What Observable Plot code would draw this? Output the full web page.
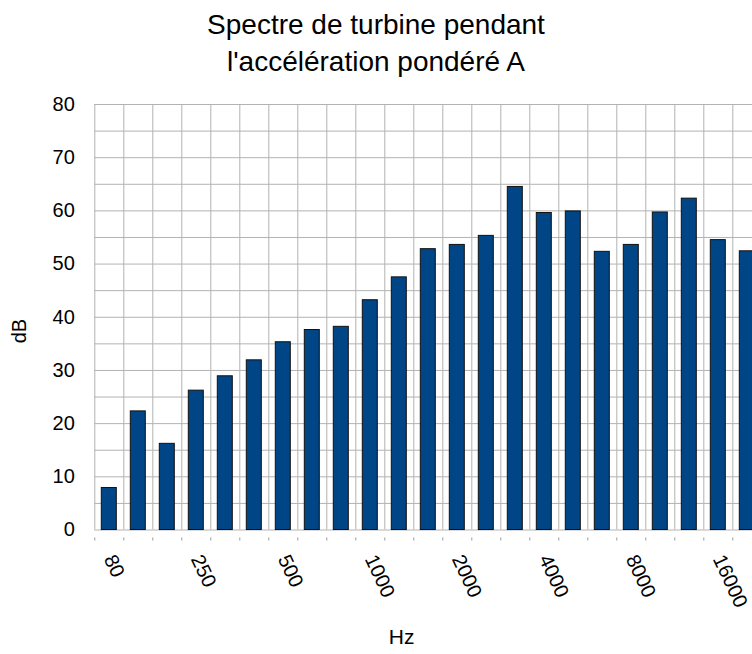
<!DOCTYPE html>
<html>
<head>
<meta charset="utf-8">
<script src="https://cdn.jsdelivr.net/npm/d3@7"></script>
<script src="https://cdn.jsdelivr.net/npm/@observablehq/plot@0.6"></script>
<style>
  html, body { margin: 0; padding: 0; background: white; }
  body { width: 752px; height: 654px; overflow: hidden; font-family: "Liberation Sans", Arial, sans-serif; }
  #title { height: 84px; box-sizing: border-box; padding-top: 6px; text-align: center; font-size: 28px; line-height: 37px; color: black; }
</style>
</head>
<body>
<div id="title">Spectre de turbine pendant<br>l'accélération pondéré A</div>
<div id="chart"></div>
<script>
const freqs = ["80","125","160","250","315","400","500","630","800","1000","1250","1600","2000","2500","3150","4000","5000","6300","8000","10000","12500","16000","20000"];
const levels = [7.9,22.3,16.2,26.2,28.9,31.9,35.3,37.6,38.2,43.2,47.5,52.8,53.6,55.3,64.5,59.6,59.9,52.3,53.6,59.7,62.3,54.5,52.4];
const yTicks = [0,10,20,30,40,50,60,70,80];
const yGrid = [0,5,10,15,20,25,30,35,40,45,50,55,60,65,70,75,80];
const labelEvery = 3;
const xTitle = "Hz";
const yTitle = "dB";

const data = freqs.map((f, i) => ({f, i, v: levels[i]}));
const bounds = d3.range(0, freqs.length + 1);
const labelPos = freqs.map((f, i) => i + 0.5).filter((d, i) => i % labelEvery === 0);

const left = 94.3, band = 29;
const chart = Plot.plot({
  width: 752,
  height: 570,
  marginTop: 20,
  marginLeft: left,
  marginRight: 0,
  marginBottom: 124.5,
  style: {fontFamily: "'Liberation Sans', Arial, sans-serif", fontSize: "20px", color: "black", background: "white", overflow: "hidden"},
  x: {domain: [0, freqs.length], range: [left, left + band * freqs.length]},
  y: {domain: [0, 80]},
  marks: [
    Plot.gridY(yGrid, {stroke: "#b3b3b3", strokeOpacity: 1}),
    Plot.gridX(bounds, {stroke: "#b3b3b3", strokeOpacity: 1}),
    Plot.rectY(data, {x: "i", y: "v", interval: 1, insetLeft: 7, insetRight: 7, fill: "#004586", stroke: "#111", strokeWidth: 1}),
    Plot.axisY(yTicks, {tickSize: 0, tickPadding: 20, label: null, fill: "black", fontSize: 20}),
    Plot.axisX(bounds, {tickSize: 3, dy: 8, tickFormat: () => "", label: null, stroke: "#999"}),
    Plot.axisX(labelPos, {tickSize: 0, tickRotate: 65, tickPadding: 26, tickFormat: d => freqs[Math.floor(d)], label: null, fill: "black", fontSize: 20}),
    Plot.text([xTitle], {frameAnchor: "bottom", dx: -22, dy: 114, fontSize: 21, fill: "black"}),
    Plot.text([yTitle], {frameAnchor: "left", dx: -75, dy: 26, rotate: -90, fontSize: 20, fill: "black"})
  ]
});
document.getElementById("chart").appendChild(chart);
</script>
</body>
</html>
